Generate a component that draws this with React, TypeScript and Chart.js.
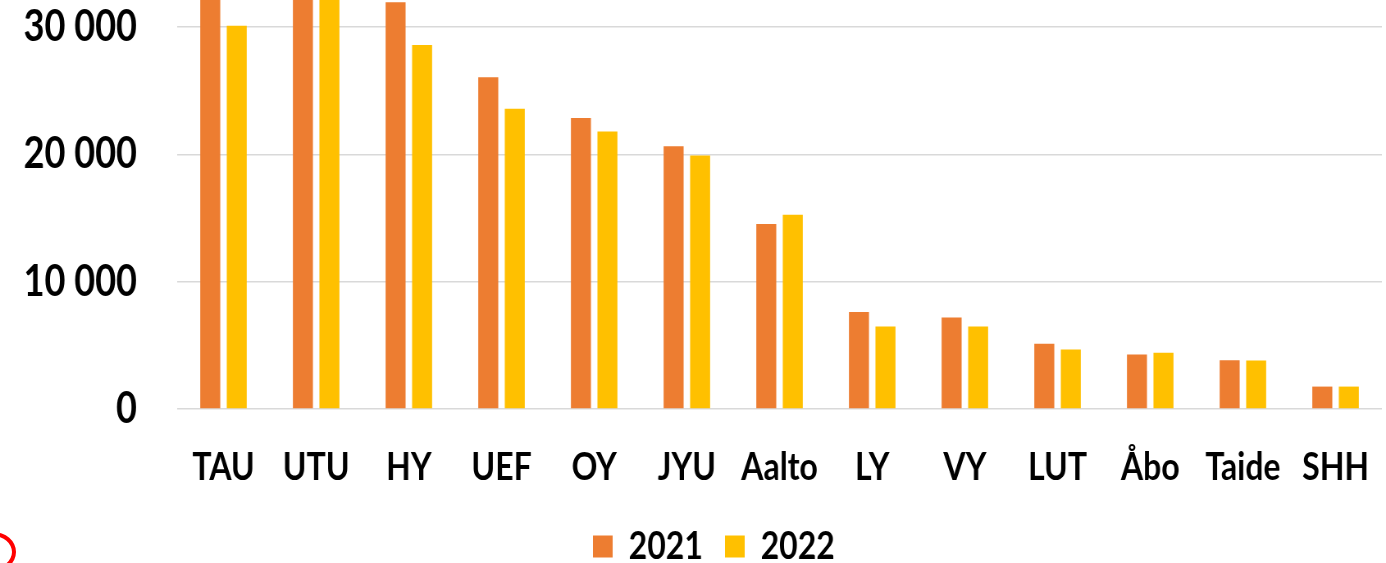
import { useEffect, useRef } from "react";
import { Chart, registerables } from "chart.js";

Chart.register(...registerables);

const categories = ["TAU", "UTU", "HY", "UEF", "OY", "JYU", "Aalto", "LY", "VY", "LUT", "Åbo", "Taide", "SHH"];
const values2021 = [34000, 35000, 31930, 26050, 22840, 20620, 14530, 7610, 7190, 5130, 4270, 3820, 1760];
const values2022 = [30090, 33000, 28580, 23570, 21790, 19910, 15250, 6480, 6480, 4680, 4420, 3800, 1760];
const seriesLabels = ["2021", "2022"];
const yTicks = [0, 10000, 20000, 30000];

const FONT = "Lato, 'Open Sans', sans-serif";
// The reference uses a narrow (Calibri-like) face; the chart is drawn wider and squeezed horizontally.
const SX = 1386 / 1690;

function fmt(v: number): string {
  return String(v).replace(/\B(?=(\d{3})+(?!\d))/g, " ");
}

export default function App() {
  const ref = useRef<HTMLCanvasElement>(null);
  useEffect(() => {
    const shiftLegend = {
      id: "shiftLegend",
      afterLayout(chart: any) {
        const lg = chart.legend;
        if (lg) {
          lg.left += 28;
          lg.right += 28;
        }
      },
    };
    const chart = new Chart(ref.current!, {
      type: "bar",
      data: {
        labels: categories,
        datasets: [
          {
            label: seriesLabels[0],
            data: values2021,
            backgroundColor: "#ED7D31",
            categoryPercentage: 0.572,
            barPercentage: 0.755,
          },
          {
            label: seriesLabels[1],
            data: values2022,
            backgroundColor: "#FFC000",
            categoryPercentage: 0.572,
            barPercentage: 0.755,
          },
        ],
      },
      plugins: [shiftLegend],
      options: {
        animation: false,
        responsive: true,
        maintainAspectRatio: false,
        layout: { padding: { left: 0, right: 5, top: 0, bottom: 0 } },
        plugins: {
          tooltip: { enabled: false },
          legend: {
            position: "bottom",
            labels: {
              boxWidth: 24,
              boxHeight: 22,
              padding: 27,
              color: "#000",
              font: { family: FONT, size: 39, weight: "bold" },
            },
          },
        },
        scales: {
          x: {
            grid: { display: false, drawTicks: false },
            border: { display: false },
            ticks: {
              color: "#000",
              font: { family: FONT, size: 39, weight: "bold" },
              padding: 35,
              maxRotation: 0,
              autoSkip: false,
            },
            afterFit(s: any) {
              s.height = 91;
              s.paddingLeft = 0;
              s.paddingRight = 0;
            },
          },
          y: {
            min: 0,
            max: 32110,
            grid: { color: "#d9d9d9", lineWidth: 1.5, drawTicks: false },
            border: { display: false },
            ticks: {
              stepSize: 10000,
              color: "#000",
              padding: 49,
              font: { family: FONT, size: 44, weight: "bold" },
              callback: (v: any) => fmt(Number(v)),
            },
            afterBuildTicks(s: any) {
              s.ticks = yTicks.map((v) => ({ value: v }));
            },
            afterFit(s: any) {
              s.width = 216;
              s.paddingTop = 0;
              s.paddingBottom = 0;
            },
          },
        },
      },
    });
    return () => chart.destroy();
  }, []);

  return (
    <div style={{ position: "absolute", left: 0, top: 0, width: 1386, height: 563, overflow: "hidden", background: "#fff" }}>
      <div
        style={{
          position: "absolute",
          left: 0,
          top: 0,
          width: 1690,
          height: 576,
          transform: `scaleX(${SX})`,
          transformOrigin: "left top",
        }}
      >
        <canvas ref={ref} />
      </div>
      <div
        style={{
          position: "absolute",
          left: -30,
          top: 532,
          width: 38,
          height: 32,
          border: "4px solid #ff0000",
          borderRadius: "50%",
        }}
      />
    </div>
  );
}
